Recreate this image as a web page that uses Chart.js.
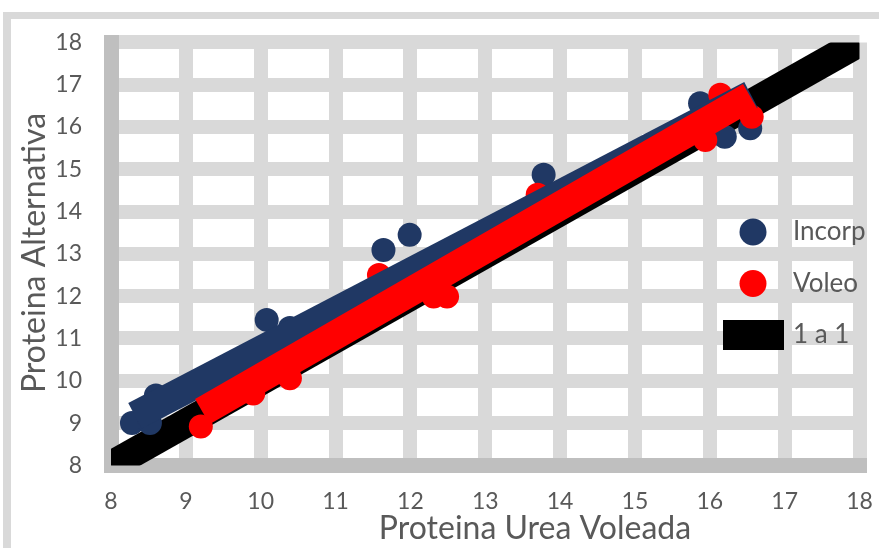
<!DOCTYPE html>
<html>
<head>
<meta charset="utf-8">
<script src="https://cdn.jsdelivr.net/npm/chart.js@4.4.0/dist/chart.umd.min.js"></script>
<style>
  html, body { margin: 0; padding: 0; background: #fff; }
</style>
</head>
<body>
<canvas id="myChart" width="879" height="548"></canvas>
<script>
// values
var incorpX = [8.28, 8.52, 8.6, 10.08, 10.39, 11.64, 11.99, 13.78, 15.87, 16.2, 16.54];
var incorpY = [9.0, 9.0, 9.65, 11.44, 11.25, 13.09, 13.45, 14.87, 16.56, 15.77, 15.97];
var voleoX = [9.2, 9.9, 10.39, 11.58, 12.31, 12.49, 13.7, 15.94, 16.14, 16.56];
var voleoY = [8.92, 9.7, 10.06, 12.5, 11.99, 11.99, 14.4, 15.69, 16.76, 16.24];

// trend lines and the 1 to 1 line (end points)
var incorpTrendX = [8.32, 16.55];
var incorpTrendY = [9.17, 16.76];
var voleoTrendX = [9.22, 16.54];
var voleoTrendY = [9.27, 16.72];
var unoX = [8, 18];
var unoY = [8, 18];

var seriesNames = ["Incorp", "Voleo", "1 a 1"];
var xTitle = "Proteina Urea Voleada";
var yTitle = "Proteina Alternativa";
var axisMin = 8;
var axisMax = 18;

var navy = "#203864";
var red = "#ff0000";
var black = "#000000";
var textGrey = "#595959";

function toPoints(xs, ys) {
  return xs.map(function (x, i) { return { x: x, y: ys[i] }; });
}

// white page with the grey frame round the chart
var framePlugin = {
  id: "frame",
  beforeDraw: function (chart) {
    var c = chart.ctx;
    c.save();
    c.fillStyle = "#ffffff";
    c.fillRect(0, 0, chart.width, chart.height);
    c.fillStyle = "#d9d9d9";
    c.fillRect(3, 12, chart.width - 3, 7);
    c.fillRect(3, 12, 8, chart.height - 12);
    c.restore();
  }
};

// axis titles and legend sitting inside the plot like the original
var labelsPlugin = {
  id: "labels",
  afterDraw: function (chart) {
    var c = chart.ctx;
    c.save();
    c.fillStyle = textGrey;
    c.font = "32px Lato";
    c.textAlign = "center";
    c.textBaseline = "middle";
    c.fillText(xTitle, 535, 529);
    c.translate(35, 253);
    c.rotate(-Math.PI / 2);
    c.fillText(yTitle, 0, 0);
    c.restore();

    var items = [
      { color: navy, kind: "dot" },
      { color: red, kind: "dot" },
      { color: black, kind: "box" }
    ];
    c.save();
    c.font = "26px Lato";
    c.textAlign = "left";
    c.textBaseline = "middle";
    items.forEach(function (it, i) {
      var y = 232 + i * 51.5;
      c.fillStyle = it.color;
      if (it.kind == "dot") {
        c.beginPath();
        c.arc(753, y, 13.5, 0, Math.PI * 2);
        c.fill();
      } else {
        c.fillRect(723, y - 15, 61, 30);
      }
      c.fillStyle = textGrey;
      c.fillText(seriesNames[i], 793, y);
    });
    c.restore();
  }
};

var tickFont = { family: "Lato", size: 23 };

var ctx = document.getElementById("myChart").getContext("2d");
var myChart = new Chart(ctx, {
  type: "scatter",
  data: {
    datasets: [
      {
        label: seriesNames[2],
        data: toPoints(unoX, unoY),
        showLine: true,
        borderColor: black,
        borderWidth: 29,
        pointRadius: 0,
        clip: 0,
        order: 5
      },
      {
        label: seriesNames[0],
        data: toPoints(incorpX, incorpY),
        backgroundColor: navy,
        borderWidth: 0,
        pointRadius: 12,
        order: 4
      },
      {
        label: seriesNames[1],
        data: toPoints(voleoX, voleoY),
        backgroundColor: red,
        borderWidth: 0,
        pointRadius: 12,
        order: 3
      },
      {
        label: "Incorp trend",
        data: toPoints(incorpTrendX, incorpTrendY),
        showLine: true,
        borderColor: navy,
        borderWidth: 29,
        pointRadius: 0,
        clip: 0,
        order: 2
      },
      {
        label: "Voleo trend",
        data: toPoints(voleoTrendX, voleoTrendY),
        showLine: true,
        borderColor: red,
        borderWidth: 29,
        pointRadius: 0,
        clip: 0,
        order: 1
      }
    ]
  },
  options: {
    responsive: false,
    animation: false,
    devicePixelRatio: 1,
    layout: { padding: { left: 0, top: 42.4, right: 19.5, bottom: 0 } },
    plugins: {
      legend: { display: false },
      tooltip: { enabled: false }
    },
    scales: {
      x: {
        type: "linear",
        min: axisMin,
        max: axisMax,
        ticks: { stepSize: 1, padding: 22, color: textGrey, font: tickFont },
        grid: { color: "#d9d9d9", lineWidth: 14, drawTicks: false },
        border: { color: "#bfbfbf", width: 15 },
        afterFit: function (s) {
          s.height = 82.6;
          s.paddingLeft = 0;
          s.paddingRight = 0;
        }
      },
      y: {
        type: "linear",
        min: axisMin,
        max: axisMax,
        ticks: { stepSize: 1, padding: 29, color: textGrey, font: tickFont },
        grid: { color: "#d9d9d9", lineWidth: 14, drawTicks: false },
        border: { color: "#bfbfbf", width: 15 },
        afterFit: function (s) {
          s.width = 111;
          s.paddingTop = 0;
          s.paddingBottom = 0;
        }
      }
    }
  },
  plugins: [framePlugin, labelsPlugin]
});
</script>
</body>
</html>
